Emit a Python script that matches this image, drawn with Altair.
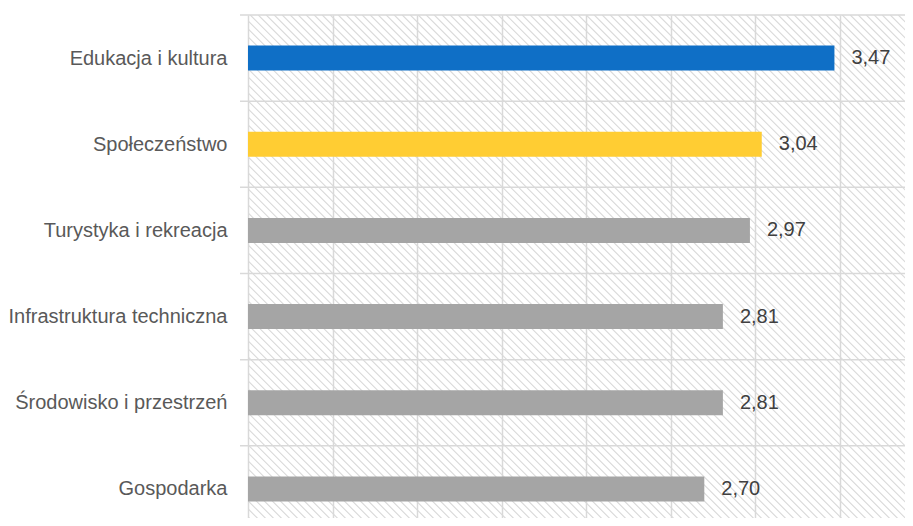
import json
import altair as alt
import pandas as pd

categories = [
    "Edukacja i kultura",
    "Społeczeństwo",
    "Turystyka i rekreacja",
    "Infrastruktura techniczna",
    "Środowisko i przestrzeń",
    "Gospodarka",
]
values = [3.47, 3.04, 2.97, 2.81, 2.81, 2.70]
bar_colors = ["#0F6FC6", "#FFCD33", "#A5A5A5", "#A5A5A5", "#A5A5A5", "#A5A5A5"]
x_ticks = [0, 0.5, 1, 1.5, 2, 2.5, 3, 3.5]

df = pd.DataFrame({"category": categories, "value": values, "row": list(range(len(categories)))})
edges_df = pd.DataFrame({"edge": list(range(len(categories)))})

FONT = "Liberation Sans, Arial, sans-serif"
PX_PER_X = 169.0
ROW_H = 86.17
W = 665
H = 511

x_scale = alt.Scale(domain=[0, W / PX_PER_X], nice=False, zero=False)
y_scale = alt.Scale(domain=[0, H / ROW_H], nice=False, zero=False, reverse=True)

label_expr = json.dumps(categories, ensure_ascii=False) + "[floor(datum.value)]"

x_axis = alt.Axis(
    values=x_ticks, grid=True, gridColor="#d9d9d9", gridWidth=1.5,
    labels=False, ticks=False, domain=False, title=None,
)
y_axis = alt.Axis(
    values=[i + 0.5 for i in range(len(categories))],
    labelExpr=label_expr, ticks=False, domain=False, grid=False, title=None,
    labelFont=FONT, labelFontSize=20, labelColor="#595959",
    labelPadding=21, labelLimit=400,
)

# hatched background (decorative diagonal pattern)
slope_units = 6 * ROW_H / PX_PER_X
hatch = (
    alt.Chart(alt.sequence(start=-3.3, stop=4.0, step=8 / PX_PER_X, as_="s"))
    .transform_calculate(s2=f"datum.s + {slope_units}", t0="0", t1="6")
    .mark_rule(clip=True, stroke="#d9d9d9", strokeWidth=1.1)
    .encode(
        x=alt.X("s:Q", scale=x_scale, axis=x_axis),
        x2="s2:Q",
        y=alt.Y("t0:Q", scale=y_scale, axis=y_axis),
        y2="t1:Q",
    )
)

hrules = (
    alt.Chart(edges_df)
    .mark_rule(stroke="#d9d9d9", strokeWidth=1.5)
    .encode(
        y=alt.Y("edge:Q", scale=y_scale, axis=y_axis),
        x=alt.value(-8),
        x2=alt.value(W + 10),
    )
)

base = alt.Chart(df).transform_calculate(
    zero="0",
    pos="datum.row + 0.5",
    label="replace(format(datum.value, '.2f'), '.', ',')",
)

bars = base.mark_rule(strokeWidth=25, strokeCap="butt").encode(
    x=alt.X("zero:Q", scale=x_scale, axis=x_axis),
    x2="value:Q",
    y=alt.Y("pos:Q", scale=y_scale, axis=y_axis),
    color=alt.Color("category:N", scale=alt.Scale(domain=categories, range=bar_colors), legend=None),
)

texts = base.mark_text(
    align="left", baseline="middle", dx=17, font=FONT, fontSize=20, color="#404040"
).encode(
    x=alt.X("value:Q", scale=x_scale, axis=x_axis),
    y=alt.Y("pos:Q", scale=y_scale, axis=y_axis),
    text="label:N",
)

chart = (
    alt.layer(hatch, hrules, bars, texts)
    .properties(
        width=W,
        height=H,
        autosize=alt.AutoSizeParams(type="none"),
        padding={"left": 240, "top": 7, "right": -8, "bottom": -8},
        background="white",
    )
    .configure_view(stroke=None)
)

chart.save("out.html", embed_options={"renderer": "svg", "actions": False})
